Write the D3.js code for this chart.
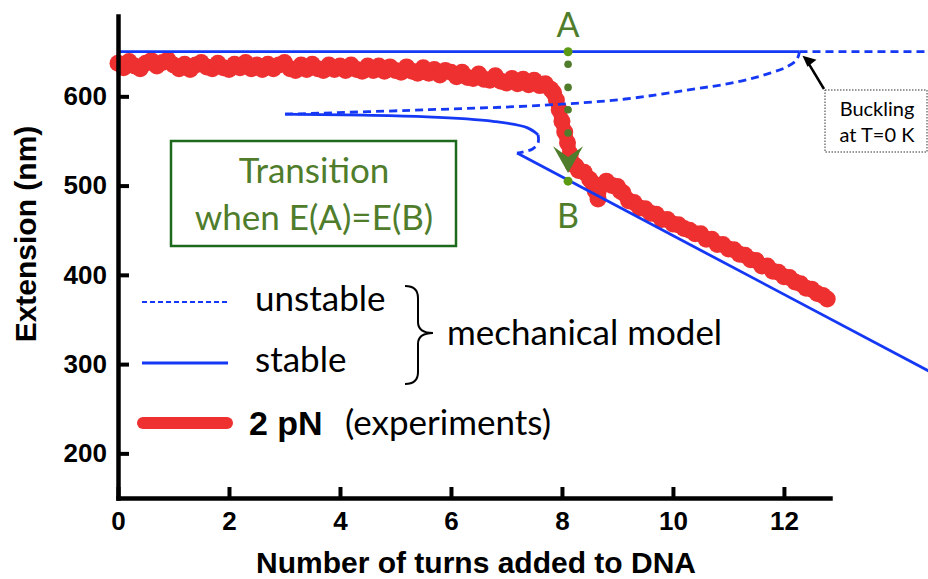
<!DOCTYPE html>
<html>
<head>
<meta charset="utf-8">
<script src="https://d3js.org/d3.v7.min.js"></script>
<style>
  body { margin: 0; background: #fff; }
  .axis text { font-family: "Liberation Sans", Arial, sans-serif; font-weight: bold; font-size: 26px; fill: #000; }
  .lbl { font-family: Lato, "Open Sans", sans-serif; }
</style>
</head>
<body>
<svg width="928" height="579"></svg>
<script>
// experiments, 2 pN
var expTurns = [0.0,0.1,0.2,0.3,0.4,0.5,0.6,0.7,0.8,0.9,1.0,1.1,1.2,1.3,1.4,1.5,1.6,1.7,1.8,1.9,
  2.0,2.1,2.2,2.3,2.4,2.5,2.6,2.7,2.8,2.9,3.0,3.1,3.2,3.3,3.4,3.5,3.6,3.7,3.8,3.9,
  4.0,4.1,4.2,4.3,4.4,4.5,4.6,4.7,4.8,4.9,5.0,5.1,5.2,5.3,5.4,5.5,5.6,5.7,5.8,5.9,
  6.0,6.1,6.2,6.3,6.4,6.5,6.6,6.7,6.8,6.9,7.0,7.1,7.2,7.3,7.4,7.5,7.6,7.7,7.8,7.85,
  7.9,7.95,8.0,8.05,8.1,8.15,8.2,8.25,8.3,8.4,8.5,8.55,8.6,8.65,8.7,8.8,8.9,9.0,9.05,9.1,
  9.2,9.3,9.4,9.5,9.6,9.7,9.8,9.9,10.0,10.1,10.2,10.3,10.4,10.5,10.6,10.7,10.8,10.9,11.0,11.1,
  11.2,11.3,11.4,11.5,11.6,11.7,11.8,11.9,12.0,12.1,12.2,12.3,12.4,12.5,12.6,12.7,12.78];
var expExt = [637,632,639,634,631,637,640,634,638,641,635,631,636,630,635,638,633,631,637,632,
  630,636,632,638,631,635,630,636,631,635,638,631,629,635,630,636,631,629,635,630,
  634,629,635,630,628,634,629,634,628,633,629,627,633,628,626,632,626,630,624,629,
  627,622,627,621,620,625,619,618,623,617,615,620,614,619,613,618,612,614,608,604,
  596,585,572,560,548,535,524,522,517,515,507,503,494,485,500,505,500,499,494,492,
  483,481,475,474,469,468,462,462,457,456,452,450,446,446,440,440,434,434,429,428,
  423,422,417,416,410,410,404,403,398,397,392,390,385,384,379,377,373];

// mechanical model branches
var straightTurns = [0, 12.28];             var straightExt = [650, 650];
var straightUnstTurns = [12.28, 14.8];      var straightUnstExt = [650, 650];
var plectUnstTurns = [3.01, 5.6, 7.66, 9.14, 10.25, 11.15, 11.75, 12.05, 12.23, 12.28];
var plectUnstExt   = [580, 585, 590, 597, 607, 616, 626, 633, 641, 650];
var plectStabTurns = [3.01, 5.57, 6.76, 7.37, 7.57];
var plectStabExt   = [580, 577, 572, 565, 557];
var linkUnstTurns = [7.57, 7.57, 7.47, 7.19];
var linkUnstExt   = [557, 548, 541, 536.5];
var lowStabTurns = [7.19, 14.8];            var lowStabExt = [536.5, 286];

// transition marker A -> B
var transTurn = 8.11;
var extA = 650, extB = 505;
var dotExt = [636, 610, 585, 559];
var arrowExt = [544, 532, 514];   // back, notch, tip

var xTicks = [0, 2, 4, 6, 8, 10, 12];
var yTicks = [200, 300, 400, 500, 600];

var svg = d3.select("svg");
var x = d3.scaleLinear().domain([0, 12.83]).range([118, 830]);
var y = d3.scaleLinear().domain([150, 690]).range([498, 16]);

var blue = "#1538f5", red = "#ee3030", green = "#4f7d2b", dotGreen = "#5b9a12";

function pts(tx, ty) { return tx.map(function(t, i) { return [t, ty[i]]; }); }
var line = d3.line().x(function(d) { return x(d[0]); }).y(function(d) { return y(d[1]); });
var smooth = d3.line().x(function(d) { return x(d[0]); }).y(function(d) { return y(d[1]); })
    .curve(d3.curveCatmullRom.alpha(0.5));

// experimental trace
var exp = pts(expTurns, expExt);
svg.append("path").attr("d", line(exp))
    .attr("fill", "none").attr("stroke", red).attr("stroke-width", 14)
    .attr("stroke-linejoin", "round").attr("stroke-linecap", "round");
svg.append("g").selectAll("circle").data(exp).enter().append("circle")
    .attr("cx", function(d) { return x(d[0]); })
    .attr("cy", function(d) { return y(d[1]); })
    .attr("r", 8.5).attr("fill", red);

// model curves
function model(data, dashed, gen) {
  svg.append("path").attr("d", (gen || line)(data))
    .attr("fill", "none").attr("stroke", blue).attr("stroke-width", 2.8)
    .attr("stroke-dasharray", dashed ? "8,5" : null);
}
model(pts(straightTurns, straightExt), false);
model(pts(straightUnstTurns, straightUnstExt), true);
model(pts(plectUnstTurns, plectUnstExt), true, smooth);
model(pts(plectStabTurns, plectStabExt), false, smooth);
model(pts(linkUnstTurns, linkUnstExt), true, smooth);
model(pts(lowStabTurns, lowStabExt), false);

// axes
svg.append("g").attr("class", "axis")
    .attr("transform", "translate(" + x(0) + ",0)")
    .call(d3.axisLeft(y).tickValues(yTicks).tickSizeInner(-11).tickSizeOuter(0).tickPadding(11));
svg.append("g").attr("class", "axis")
    .attr("transform", "translate(0," + y(150) + ")")
    .call(d3.axisBottom(x).tickValues(xTicks).tickSizeInner(-11).tickSizeOuter(0).tickPadding(14));
svg.selectAll(".axis .domain").attr("stroke-width", 4.5).attr("stroke-linecap", "square");
svg.selectAll(".axis .tick line").attr("stroke-width", 4);

svg.append("text").attr("x", 476).attr("y", 573).attr("text-anchor", "middle")
    .style("font-family", "'Liberation Sans', Arial, sans-serif").style("font-weight", "bold")
    .style("font-size", "30px").text("Number of turns added to DNA");
svg.append("text").attr("transform", "translate(36,234) rotate(-90)").attr("text-anchor", "middle")
    .style("font-family", "'Liberation Sans', Arial, sans-serif").style("font-weight", "bold")
    .style("font-size", "30px").text("Extension (nm)");

// transition A -> B
var tx = x(transTurn);
svg.append("g").selectAll("circle").data(dotExt).enter().append("circle")
    .attr("cx", tx).attr("cy", function(d) { return y(d); }).attr("r", 3.8).attr("fill", green);
svg.append("path")
    .attr("d", "M" + (tx - 15) + "," + y(arrowExt[0]) + "L" + tx + "," + y(arrowExt[1]) +
               "L" + (tx + 15) + "," + y(arrowExt[0]) + "L" + tx + "," + y(arrowExt[2]) + "Z")
    .attr("fill", green);
svg.append("circle").attr("cx", tx).attr("cy", y(extA)).attr("r", 4.5).attr("fill", dotGreen);
svg.append("circle").attr("cx", tx).attr("cy", y(extB)).attr("r", 4.5).attr("fill", dotGreen);
svg.append("text").attr("class", "lbl").attr("x", tx).attr("y", 37).attr("text-anchor", "middle")
    .style("font-size", "34px").attr("fill", green).text("A");
svg.append("text").attr("class", "lbl").attr("x", tx).attr("y", 228).attr("text-anchor", "middle")
    .style("font-size", "34px").attr("fill", green).text("B");

// transition box
svg.append("rect").attr("x", 171).attr("y", 141).attr("width", 285).attr("height", 105)
    .attr("fill", "none").attr("stroke", "#1d6a1d").attr("stroke-width", 2.5);
svg.append("text").attr("class", "lbl").attr("x", 314).attr("y", 183).attr("text-anchor", "middle")
    .style("font-size", "35px").attr("fill", green).text("Transition");
svg.append("text").attr("class", "lbl").attr("x", 314).attr("y", 230).attr("text-anchor", "middle")
    .style("font-size", "35px").attr("fill", green).text("when E(A)=E(B)");

// buckling annotation
var bx = x(12.28), by = y(650);
svg.append("rect").attr("x", 825).attr("y", 90).attr("width", 102).attr("height", 62)
    .attr("fill", "none").attr("stroke", "#333").attr("stroke-width", 1).attr("stroke-dasharray", "1.5,1.5");
svg.append("line").attr("x1", 824).attr("y1", 89).attr("x2", bx + 8).attr("y2", by + 10)
    .attr("stroke", "#000").attr("stroke-width", 2.5);
svg.append("path").attr("d", "M" + (bx + 3) + "," + (by + 4) + "l14,4 l-9,7 z").attr("fill", "#000");
svg.append("text").attr("class", "lbl").attr("x", 877).attr("y", 116).attr("text-anchor", "middle")
    .style("font-size", "20px").text("Buckling");
svg.append("text").attr("class", "lbl").attr("x", 877).attr("y", 142).attr("text-anchor", "middle")
    .style("font-size", "20px").text("at T=0 K");

// legend
svg.append("line").attr("x1", 142).attr("x2", 227).attr("y1", 302).attr("y2", 302)
    .attr("stroke", blue).attr("stroke-width", 2).attr("stroke-dasharray", "5,3");
svg.append("line").attr("x1", 142).attr("x2", 228).attr("y1", 363).attr("y2", 363)
    .attr("stroke", blue).attr("stroke-width", 2.8);
svg.append("line").attr("x1", 143).attr("x2", 227).attr("y1", 423).attr("y2", 423)
    .attr("stroke", red).attr("stroke-width", 12).attr("stroke-linecap", "round");
svg.append("text").attr("class", "lbl").attr("x", 255).attr("y", 311).style("font-size", "35px").text("unstable");
svg.append("text").attr("class", "lbl").attr("x", 255).attr("y", 372).style("font-size", "35px").text("stable");
svg.append("path")
    .attr("d", "M405,286 C414,286 418,290 418,298 L418,322 C418,329 423,333 433,333 C423,333 418,337 418,344 L418,372 C418,380 414,384 405,384")
    .attr("fill", "none").attr("stroke", "#000").attr("stroke-width", 2);
svg.append("text").attr("class", "lbl").attr("x", 447).attr("y", 345).style("font-size", "35px").text("mechanical model");
svg.append("text").attr("x", 249).attr("y", 435)
    .style("font-family", "'Liberation Sans', Arial, sans-serif").style("font-weight", "bold")
    .style("font-size", "34px").text("2 pN");
svg.append("text").attr("class", "lbl").attr("x", 345).attr("y", 435).style("font-size", "35px").text("(experiments)");
</script>
</body>
</html>
